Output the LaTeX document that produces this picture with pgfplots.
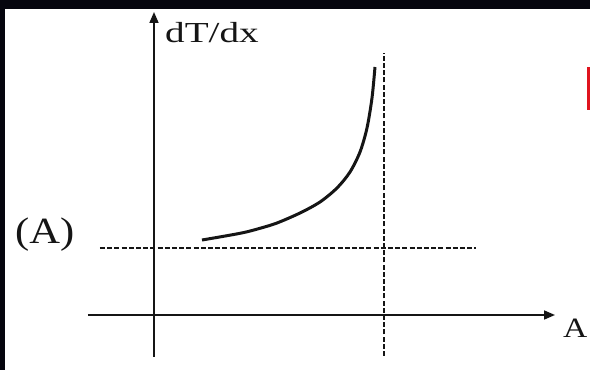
\documentclass[border=0pt]{standalone}
\usepackage{fontspec}
\setmainfont{Liberation Serif}
\usepackage{pgfplots}
\pgfplotsset{compat=1.18}
\usetikzlibrary{arrows.meta}
\definecolor{frameblack}{HTML}{05050E}
\definecolor{ink}{HTML}{151515}
\definecolor{markred}{HTML}{E0141E}

\begin{document}
\begin{tikzpicture}
  % page area and dark frame along the top and left edges
  \useasboundingbox (-154pt,-55pt) rectangle (436pt,315pt);
  \fill[frameblack] (-154pt,-55pt) rectangle (436pt,315pt);
  \fill[white] (-149pt,-55pt) rectangle (436pt,306pt);
  \fill[markred] (433pt,205pt) rectangle (436pt,248pt);

  \begin{axis}[
      at={(0pt,0pt)}, anchor=origin,
      scale only axis,
      width=467pt, height=345pt,
      xmin=-66, xmax=401,
      ymin=-42, ymax=303,
      axis lines=middle,
      axis line style={line width=1.7pt, ink, -{Triangle[length=11pt,width=9pt]}},
      xtick=\empty, ytick=\empty,
      clip=false,
    ]
    % threshold level and asymptote
    \addplot[ink, line width=1.4pt, dash pattern=on 5pt off 2.2pt]
      coordinates {(-54,67) (322,67)};
    \addplot[ink, line width=1.4pt, dash pattern=on 5pt off 2.2pt]
      coordinates {(230,-41) (230,262)};
    % rising gradient curve
    \addplot[ink, line width=3pt, smooth]
      coordinates {
        (48,75) (69,78.6) (90,82.5) (106,86.7) (123,92) (146,102)
        (166,113) (183,127) (196,143) (206,163) (213,187) (218,217)
        (221,248)
      };
    \node[anchor=base west, ink, inner sep=0pt,
          font=\fontsize{29}{32}\selectfont] at (axis cs:11,272)
          {\scalebox{1.35}[1]{dT/dx}};
    \node[anchor=base west, ink, inner sep=0pt,
          font=\fontsize{37}{40}\selectfont] at (axis cs:-139,71)
          {\scalebox{1.15}[1]{(A)}};
    \node[anchor=base west, ink, inner sep=0pt,
          font=\fontsize{28}{30}\selectfont] at (axis cs:409,-23)
          {\scalebox{1.2}[1]{A}};
  \end{axis}
\end{tikzpicture}
\end{document}
